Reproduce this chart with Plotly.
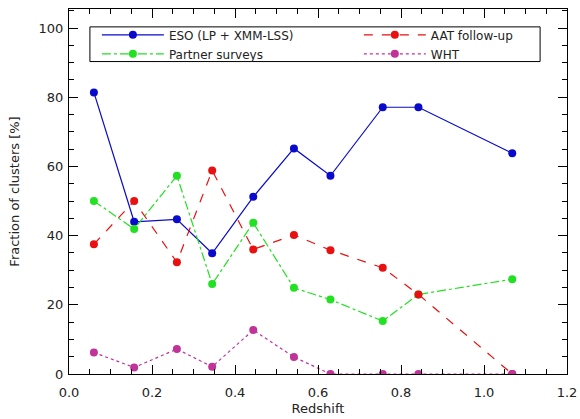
import plotly.graph_objects as go

redshift = [0.06, 0.157, 0.26, 0.345, 0.444, 0.542, 0.63, 0.756, 0.842, 1.068]
eso = [81.4, 44.0, 44.7, 34.9, 51.2, 65.2, 57.3, 77.1, 77.1, 63.8]
partner = [50.0, 41.9, 57.3, 26.0, 43.7, 24.9, 21.5, 15.3, 23.0, 27.4]
aat = [37.5, 50.0, 32.3, 58.8, 36.0, 40.2, 35.8, 30.7, 23.0, 0.0]
wht = [6.2, 1.9, 7.2, 2.1, 12.7, 4.9, 0.0, 0.0, 0.0, 0.0]

x_ticks = [0.0, 0.2, 0.4, 0.6, 0.8, 1.0, 1.2]
x_labels = ["0.0", "0.2", "0.4", "0.6", "0.8", "1.0", "1.2"]
y_ticks = [0, 20, 40, 60, 80, 100]
y_labels = ["0", "20", "40", "60", "80", "100"]

font = dict(family="DejaVu Sans", size=13, color="#222222")

fig = go.Figure()
fig.add_trace(go.Scatter(x=redshift, y=eso, mode="lines+markers", name="ESO (LP + XMM-LSS)",
                         line=dict(color="#0a0acc", width=1.2, dash="solid"),
                         marker=dict(color="#0a0acc", size=8), legend="legend"))
fig.add_trace(go.Scatter(x=redshift, y=partner, mode="lines+markers", name="Partner surveys",
                         line=dict(color="#22e022", width=1.2, dash="dashdot"),
                         marker=dict(color="#22e022", size=8), legend="legend"))
fig.add_trace(go.Scatter(x=redshift, y=aat, mode="lines+markers", name="AAT follow-up",
                         line=dict(color="#e81010", width=1.2, dash="dash"),
                         marker=dict(color="#e81010", size=8), legend="legend2"))
fig.add_trace(go.Scatter(x=redshift, y=wht, mode="lines+markers", name="WHT",
                         line=dict(color="#c03399", width=1.2, dash="dot"),
                         marker=dict(color="#c03399", size=8), legend="legend2"))

axis_common = dict(showline=True, linecolor="black", linewidth=1, mirror="allticks",
                   ticks="inside", ticklen=9, tickcolor="black", showgrid=False,
                   zeroline=False, tickfont=font, automargin=False)

fig.update_xaxes(range=[0, 1.2], tickvals=x_ticks, ticktext=x_labels,
                 ticklabelstandoff=6,
                 title=dict(text="Redshift", font=font, standoff=5),
                 minor=dict(dtick=0.05, ticks="inside", ticklen=5, tickcolor="black"),
                 **axis_common)
fig.update_yaxes(range=[0, 105.5], tickvals=y_ticks, ticktext=y_labels,
                 ticklabelstandoff=2,
                 title=dict(text="Fraction of clusters [%]", font=font, standoff=16),
                 minor=dict(dtick=5, ticks="inside", ticklen=5, tickcolor="black"),
                 **axis_common)

legend_style = dict(font=dict(family="DejaVu Sans", size=12, color="#222222"),
                    bgcolor="rgba(0,0,0,0)", borderwidth=0, xanchor="left", yanchor="top",
                    tracegroupgap=0, itemwidth=62)
fig.update_layout(
    width=580, height=419,
    margin=dict(l=69, r=13, t=9, b=45),
    paper_bgcolor="white", plot_bgcolor="white",
    showlegend=True,
    legend=dict(x=0.056, y=0.969, **legend_style),
    legend2=dict(x=0.582, y=0.969, **legend_style),
    shapes=[dict(type="rect", xref="paper", yref="paper", x0=0.042, x1=0.946, y0=0.856, y1=0.951,
                 line=dict(color="black", width=1), fillcolor="rgba(0,0,0,0)")],
)

fig.write_html("out.html", config={"displayModeBar": False},
               post_script="document.body.style.margin='0';")
